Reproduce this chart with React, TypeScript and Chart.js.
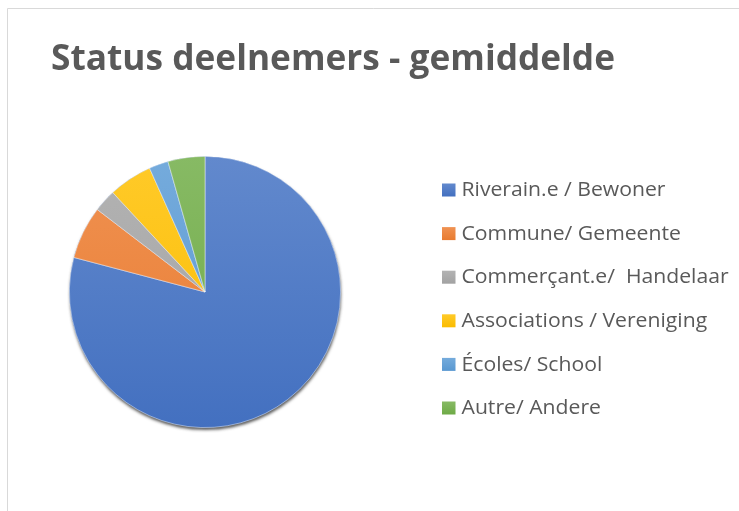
import { useEffect, useRef } from "react";
import { Chart, registerables } from "chart.js";

Chart.register(...registerables);

const categories = [
  "Riverain.e / Bewoner",
  "Commune/ Gemeente",
  "Commerçant.e/  Handelaar",
  "Associations / Vereniging",
  "Écoles/ School",
  "Autre/ Andere",
];
const shares = [79.1, 6.3, 2.7, 5.2, 2.3, 4.4];
const colors = ["#4472C4", "#ED7D31", "#A5A5A5", "#FFC000", "#5B9BD5", "#70AD47"];
const titleText = "Status deelnemers - gemiddelde";

function mix(hex: string, t: number, target: number) {
  const n = parseInt(hex.slice(1), 16);
  const r = (n >> 16) & 255, g = (n >> 8) & 255, b = n & 255;
  const f = (c: number) => Math.round(c + (target - c) * t);
  return `rgb(${f(r)},${f(g)},${f(b)})`;
}

function gradientFor(ctx: CanvasRenderingContext2D, base: string, top: number, bottom: number) {
  const g = ctx.createLinearGradient(0, top, 0, bottom);
  g.addColorStop(0, mix(base, 0.16, 255));
  g.addColorStop(1, mix(base, 0.02, 0));
  return g;
}

const framePlugin = {
  id: "frameAndText",
  beforeDraw(chart: any) {
    const ctx = chart.ctx as CanvasRenderingContext2D;
    ctx.save();
    ctx.fillStyle = "#ffffff";
    ctx.fillRect(0, 0, chart.width, chart.height);
    ctx.strokeStyle = "#D9D9D9";
    ctx.lineWidth = 1;
    ctx.beginPath();
    ctx.moveTo(7.5, chart.height + 5);
    ctx.lineTo(7.5, 8.5);
    ctx.lineTo(chart.width + 5, 8.5);
    ctx.stroke();
    ctx.restore();
  },
  beforeDatasetsDraw(chart: any) {
    const ctx = chart.ctx as CanvasRenderingContext2D;
    const arc = chart.getDatasetMeta(0).data[0] as any;
    if (!arc) return;
    ctx.save();
    ctx.shadowColor = "rgba(40,40,40,0.75)";
    ctx.shadowBlur = 3;
    ctx.shadowOffsetX = 0.5;
    ctx.shadowOffsetY = 2.5;
    ctx.beginPath();
    ctx.arc(arc.x, arc.y, arc.outerRadius, 0, Math.PI * 2);
    ctx.fillStyle = "#4472C4";
    ctx.fill();
    ctx.restore();
  },
  afterDraw(chart: any) {
    const ctx = chart.ctx as CanvasRenderingContext2D;
    ctx.save();
    // title
    ctx.fillStyle = "#595959";
    ctx.textBaseline = "alphabetic";
    ctx.font = "bold 35px 'Open Sans'";
    const w = ctx.measureText(titleText).width;
    ctx.save();
    ctx.translate(51, 70);
    ctx.scale(564 / w, 1);
    ctx.fillText(titleText, 0, 0);
    ctx.restore();
    // legend
    const labels: string[] = chart.data.labels;
    ctx.font = "20px 'Open Sans'";
    const lw = ctx.measureText(labels[0]).width;
    const sx = 204 / lw;
    ctx.textBaseline = "middle";
    labels.forEach((lab, i) => {
      const y = 190 + i * 43.6;
      ctx.fillStyle = gradientFor(ctx, colors[i], y - 6.5, y + 6.5);
      ctx.fillRect(442, y - 6.5, 13.5, 13);
      ctx.fillStyle = "#595959";
      ctx.save();
      ctx.translate(461.5, y + 0.5);
      ctx.scale(sx, 1);
      ctx.fillText(lab, 0, 0);
      ctx.restore();
    });
    ctx.restore();
  },
};

export default function App() {
  const ref = useRef<HTMLCanvasElement>(null);
  useEffect(() => {
    document.body.style.margin = "0";
    const canvas = ref.current!;
    const chart = new Chart(canvas, {
      type: "pie",
      data: {
        labels: categories,
        datasets: [
          {
            data: shares,
            backgroundColor: (c: any) => {
              const area = c.chart.chartArea;
              const base = colors[c.dataIndex];
              if (!area) return base;
              return gradientFor(c.chart.ctx, base, area.top, area.bottom);
            },
            borderColor: "rgba(255,255,255,0.55)",
            borderWidth: 0.8,
          },
        ],
      },
      options: {
        responsive: false,
        animation: false,
        layout: { padding: { left: 69, top: 156, right: 398, bottom: 83 } },
        plugins: {
          legend: { display: false },
          title: { display: false },
          tooltip: { enabled: false },
        },
      },
      plugins: [framePlugin],
    });
    return () => chart.destroy();
  }, []);
  return (
    <div style={{ width: 739, height: 511 }}>
      <canvas ref={ref} width={739} height={511} style={{ display: "block" }} />
    </div>
  );
}
